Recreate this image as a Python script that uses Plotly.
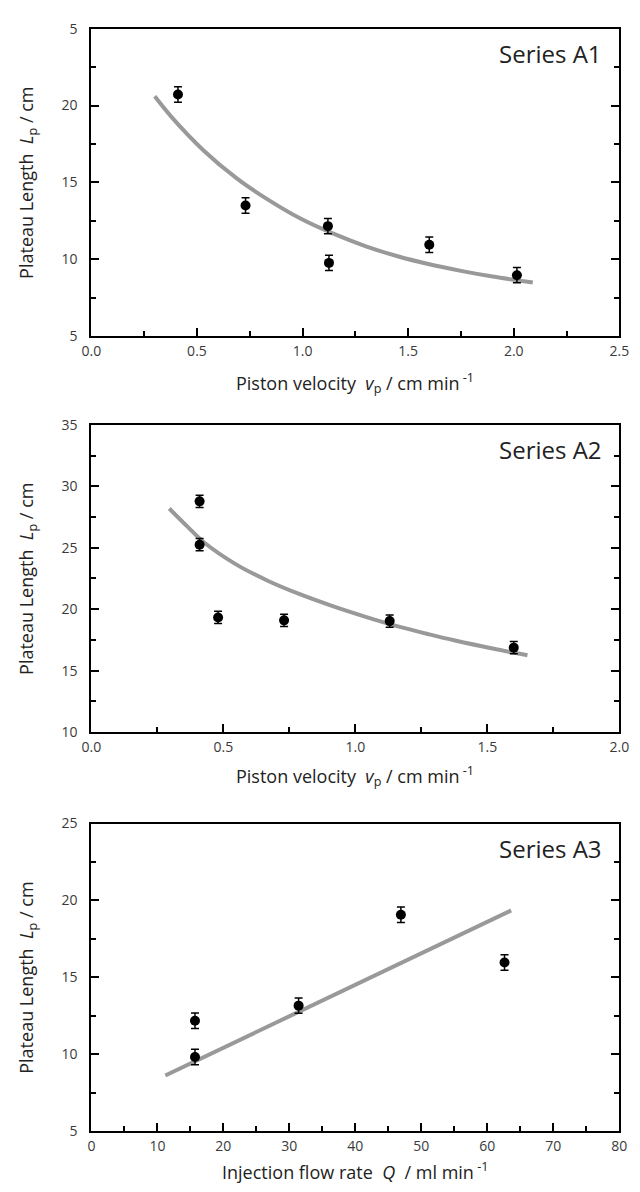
import plotly.graph_objects as go

# ---------------- data ----------------
# Series A1
a1_velocity = [0.41, 0.73, 1.12, 1.125, 1.60, 2.015]
a1_length = [20.72, 13.50, 12.16, 9.77, 10.95, 8.97]
a1_error = [0.5, 0.5, 0.5, 0.5, 0.5, 0.5]
a1_fit_velocity = [0.30, 0.38, 0.53, 0.69, 0.84, 0.99, 1.14, 1.30, 1.45, 1.60, 1.75, 1.90, 2.09]
a1_fit_length = [20.6, 19.25, 17.1, 15.25, 13.85, 12.65, 11.7, 10.85, 10.2, 9.68, 9.25, 8.88, 8.5]

# Series A2
a2_velocity = [0.41, 0.41, 0.48, 0.73, 1.13, 1.60]
a2_length = [28.78, 25.25, 19.33, 19.09, 19.03, 16.87]
a2_error = [0.5, 0.5, 0.5, 0.5, 0.5, 0.5]
a2_fit_velocity = [0.295, 0.365, 0.426, 0.548, 0.670, 0.792, 0.914, 1.036, 1.158, 1.280, 1.378, 1.52, 1.652]
a2_fit_length = [28.2, 26.7, 25.45, 23.65, 22.3, 21.2, 20.25, 19.4, 18.62, 17.95, 17.45, 16.8, 16.25]

# Series A3
a3_flow = [15.7, 15.7, 31.4, 46.9, 62.6]
a3_length = [12.18, 9.82, 13.16, 19.07, 15.96]
a3_error = [0.5, 0.5, 0.5, 0.5, 0.5]
a3_fit_flow = [11.2, 63.6]
a3_fit_length = [8.62, 19.35]

# tick labels
a1_y_ticks = [5, 10, 15, 20, 25]
a1_y_ticktext = ["5", "10", "15", "20", "5"]
a1_x_ticks = [0.0, 0.5, 1.0, 1.5, 2.0, 2.5]
a2_y_ticks = [10, 15, 20, 25, 30, 35]
a2_x_ticks = [0.0, 0.5, 1.0, 1.5, 2.0]
a3_y_ticks = [5, 10, 15, 20, 25]
a3_x_ticks = [0, 10, 20, 30, 40, 50, 60, 70, 80]

series_labels = ["Series A1", "Series A2", "Series A3"]
y_title = "Plateau Length\u00a0\u00a0<i>L</i><sub>p</sub> / cm"
x_titles = [
    "Piston velocity\u00a0\u00a0<i>v</i><sub>p</sub> / cm min<sup> -1</sup>",
    "Piston velocity\u00a0\u00a0<i>v</i><sub>p</sub> / cm min<sup> -1</sup>",
    "Injection flow rate\u00a0\u00a0<i>Q</i>\u00a0 / ml min<sup> -1</sup>",
]

# ---------------- layout geometry (pixels) ----------------
W, H = 640, 1192
FONT = "Open Sans"
X_LEFT, X_RIGHT = 84.0, 629.0
panels = [  # (top px, bottom px, x-title offset below axis)
    (19.0, 331.5, 48),
    (421.7, 733.7, 45),
    (826.7, 1139.3, 40),
]


def py(p):
    return 1 - p / H


def px(p):
    return p / W


fig = go.Figure()

GRAY = "#999999"
MARK = dict(color="black", size=10)
ERR = dict(thickness=1.5, width=4, color="black")

datasets = [
    (a1_velocity, a1_length, a1_error, a1_fit_velocity, a1_fit_length),
    (a2_velocity, a2_length, a2_error, a2_fit_velocity, a2_fit_length),
    (a3_flow, a3_length, a3_error, a3_fit_flow, a3_fit_length),
]

for i, (xv, yv, ev, fx, fy) in enumerate(datasets):
    xa = "x" if i == 0 else f"x{i + 1}"
    ya = "y" if i == 0 else f"y{i + 1}"
    fig.add_trace(go.Scatter(
        x=fx, y=fy, mode="lines", line=dict(color=GRAY, width=4, shape="spline"),
        xaxis=xa, yaxis=ya, showlegend=False, hoverinfo="skip"))
    fig.add_trace(go.Scatter(
        x=xv, y=yv, mode="markers", marker=MARK,
        error_y=dict(type="data", array=ev, visible=True, **ERR),
        xaxis=xa, yaxis=ya, showlegend=False))

x_specs = [
    dict(range=[0, 2.5], tickvals=a1_x_ticks, tickformat=".1f", minor_dtick=0.25),
    dict(range=[0, 2.0], tickvals=a2_x_ticks, tickformat=".1f", minor_dtick=0.25),
    dict(range=[0, 80], tickvals=a3_x_ticks, tickformat="d", minor_dtick=5),
]
y_specs = [
    dict(range=[5, 25], tickvals=a1_y_ticks, ticktext=a1_y_ticktext, minor_dtick=2.5),
    dict(range=[10, 35], tickvals=a2_y_ticks, ticktext=[str(v) for v in a2_y_ticks], minor_dtick=2.5),
    dict(range=[5, 25], tickvals=a3_y_ticks, ticktext=[str(v) for v in a3_y_ticks], minor_dtick=2.5),
]

tickfont = dict(family=FONT, size=14, color="#3a3a3a")
layout = dict(
    width=W, height=H, margin=dict(l=0, r=0, t=0, b=0),
    paper_bgcolor="white", plot_bgcolor="white",
    font=dict(family=FONT, color="#222222"),
    showlegend=False,
)

annotations = []
for i, ((top, bot, xoff), xs, ys) in enumerate(zip(panels, x_specs, y_specs)):
    n = "" if i == 0 else str(i + 1)
    xa_name = f"xaxis{n}"
    ya_name = f"yaxis{n}"
    yr_name = f"yaxis{i + 4}"
    ydom = [py(bot), py(top)]
    layout[xa_name] = dict(
        domain=[px(X_LEFT), px(X_RIGHT)], anchor=f"y{n}", range=xs["range"],
        tickmode="array", tickvals=xs["tickvals"], tickformat=xs["tickformat"],
        ticks="inside", ticklen=8, tickwidth=1.5, tickcolor="black",
        minor=dict(ticks="inside", ticklen=5, tickwidth=1.5, tickcolor="black",
                   dtick=xs["minor_dtick"], tick0=0, showgrid=False),
        showline=True, linewidth=2, linecolor="black", mirror=True,
        showgrid=False, zeroline=False, tickfont=tickfont, ticklabelstandoff=1,
    )
    layout[ya_name] = dict(
        domain=ydom, anchor=f"x{n}", range=ys["range"],
        tickmode="array", tickvals=ys["tickvals"], ticktext=ys["ticktext"],
        ticks="inside", ticklen=8, tickwidth=1.5, tickcolor="black",
        minor=dict(ticks="inside", ticklen=5, tickwidth=1.5, tickcolor="black",
                   dtick=ys["minor_dtick"], tick0=0, showgrid=False),
        showline=True, linewidth=2, linecolor="black",
        showgrid=False, zeroline=False, tickfont=tickfont, ticklabelstandoff=9,
    )
    layout[yr_name] = dict(
        domain=ydom, anchor=f"x{n}", overlaying=f"y{n}", side="right", range=ys["range"],
        tickmode="array", tickvals=ys["tickvals"],
        ticks="inside", ticklen=8, tickwidth=1.5, tickcolor="black",
        minor=dict(ticks="inside", ticklen=5, tickwidth=1.5, tickcolor="black",
                   dtick=ys["minor_dtick"], tick0=0, showgrid=False),
        showline=True, linewidth=2, linecolor="black", showticklabels=False,
        showgrid=False, zeroline=False,
    )
    # series label
    annotations.append(dict(
        text=series_labels[i], xref="paper", yref="paper",
        x=px(613), y=py(top + 25), xanchor="right", yanchor="middle",
        showarrow=False, font=dict(family=FONT, size=24, color="#222222")))
    # y axis title
    annotations.append(dict(
        text=y_title, xref="paper", yref="paper", textangle=-90,
        x=px(18), y=py((top + bot) / 2), xanchor="center", yanchor="middle",
        showarrow=False, font=dict(family=FONT, size=18, color="#222222")))
    # x axis title
    annotations.append(dict(
        text=x_titles[i], xref="paper", yref="paper",
        x=px((X_LEFT + X_RIGHT) / 2), y=py(bot + xoff), xanchor="center", yanchor="middle",
        showarrow=False, font=dict(family=FONT, size=18, color="#222222")))

layout["annotations"] = annotations
fig.update_layout(**layout)

# dummy traces so the right-hand overlay axes render
for i in range(3):
    n = "" if i == 0 else str(i + 1)
    fig.add_trace(go.Scatter(x=[None], y=[None], xaxis=f"x{n}", yaxis=f"y{i + 4}",
                             showlegend=False, hoverinfo="skip"))

fig.write_html(
    "out.html",
    config={"displayModeBar": False},
    post_script="document.body.style.margin='0';document.body.style.overflow='hidden';",
)
